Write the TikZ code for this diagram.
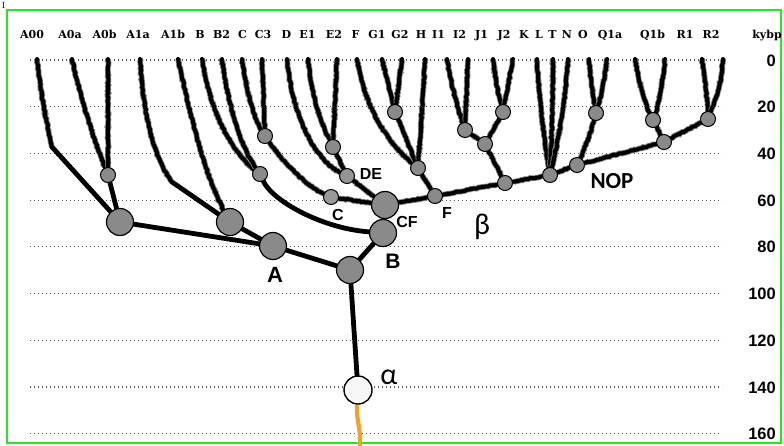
\documentclass[tikz,border=0pt]{standalone}
\usepackage{fontspec}
\newfontfamily\lsans{Liberation Sans}
\newfontfamily\carl{Carlito}
\newfontfamily\dserifb{DejaVu Serif Bold}
\usetikzlibrary{decorations.pathmorphing}
\pgfdeclarelayer{bg}
\pgfdeclarelayer{edges}
\pgfsetlayers{bg,edges,main}
\definecolor{framegreen}{RGB}{40,228,40}
\definecolor{nodegray}{RGB}{138,138,138}
\definecolor{orangeline}{RGB}{242,162,40}
\pgfmathsetseed{7}
\tikzset{
  sn/.style={circle,draw=black,line width=1pt,fill=nodegray,minimum size=15pt,inner sep=0pt},
  bn/.style={circle,draw=black,line width=1.2pt,fill=nodegray,minimum size=27pt,inner sep=0pt},
  rough/.style={draw=black,line width=4pt,line join=round,line cap=round,decorate,
    decoration={random steps,segment length=1.6pt,amplitude=0.55pt},
    preaction={draw=black!50,line width=5.6pt}},
  thickline/.style={draw=black,line width=4.8pt,line cap=round},
  toplab/.style={font=\dserifb\fontsize{11}{12}\selectfont,anchor=base,inner sep=0pt},
  numlab/.style={font=\lsans\fontsize{16.5}{18}\selectfont\bfseries,anchor=base east,inner sep=0pt},
  glab/.style={font=\lsans\fontsize{16}{18}\selectfont\bfseries,inner sep=0pt},
  gridline/.style={black!65,line width=1.2pt,dash pattern=on 1.2pt off 2.8pt},
}
\begin{document}
\begin{tikzpicture}[x=1pt,y=-1pt]
\useasboundingbox (0,0) rectangle (784,445);
\begin{pgfonlayer}{bg}
  \fill[white] (0,0) rectangle (784,445);
  \draw[framegreen,line width=2.6pt] (7,10) rectangle (781,443);
  \foreach \k in {0,...,8} \draw[gridline] (30,{60+46.72*\k}) -- (722,{60+46.72*\k});
\end{pgfonlayer}
% stray mark
\node[font=\fontsize{9}{10}\selectfont,inner sep=0pt,anchor=base] (stray) at (3.5,8) {I};
% top labels
\foreach \n/\x in {A00/32,A0a/70,A0b/104.5,A1a/138,A1b/173,B/200,B2/221.5,C/242.5,C3/263,D/286.5,E1/307.5,E2/334,F/355.5,G1/377,G2/400,H/421,I1/438.5,I2/459.5,J1/481.5,J2/504,K/524,L/539,T/552.5,N/567,O/583,Q1a/610,Q1b/652.5,R1/685,R2/711,kybp/767}
  \node[toplab] (lab\n) at (\x,38.3) {\n};
% right numbers
\foreach \k/\v in {0/0,1/20,2/40,3/60,4/80,5/100,6/120,7/140,8/160}
  \node[numlab] (num\k) at (776,{66+46.72*\k}) {\v};
% tips
\foreach \n/\x in {A00/37,A0a/72,A0b/108,A1a/140,A1b/178,B/202,B2/222,C/242,C3/262,D/287,E1/308,E2/337,F/357,G1/382,G2/402,H/425,I1/447,I2/468,J1/493,J2/513,K/537,L/553,T/568,N/589,O/607,Q1a/635,Q1b/665,R1/702,R2/723}
  \coordinate (t\n) at (\x,59);
\coordinate (kA00) at (52,147);
\coordinate (kA1a) at (172,182);
\coordinate (oEnd) at (360,446);
% big nodes
\node[bn] (A0) at (120,222) {};
\node[bn] (A1) at (230,222) {};
\node[bn] (A) at (273,246) {};
\node[bn] (Rt) at (350,270) {};
\node[bn] (B) at (383,233) {};
\node[bn] (CF) at (385,205) {};
\node[circle,draw=black,line width=1.4pt,fill=black!3,minimum size=28pt,inner sep=0pt] (alpha) at (358,390) {};
% small nodes
\node[sn] (a0s) at (108,175) {};
\node[sn] (Bs) at (260,174) {};
\node[sn] (C3n) at (265,136) {};
\node[sn,fill=black!40] (Cn) at (331,197) {};
\node[sn] (En) at (333,147) {};
\node[sn,fill=black!42] (DEn) at (347,176) {};
\node[sn] (Gn) at (395,112) {};
\node[sn] (Hn) at (418,168) {};
\node[sn] (Fn) at (435,196) {};
\node[sn] (In) at (465,130) {};
\node[sn] (Jn) at (503,112) {};
\node[sn] (IJn) at (485,144) {};
\node[sn] (Mn) at (505,183) {};
\node[sn] (KLTn) at (550,175) {};
\node[sn] (NOn) at (596,113) {};
\node[sn] (NOPn) at (577,165) {};
\node[sn] (Qn) at (653,120) {};
\node[sn] (QRn) at (664,142) {};
\node[sn] (Rn) at (708,119) {};
% labels
\node[font=\lsans\fontsize{22}{24}\selectfont\bfseries,inner sep=0pt] (labnA) at (275,275) {A};
\node[font=\lsans\fontsize{21}{24}\selectfont\bfseries,inner sep=0pt] (labnB) at (393,261) {B};
\node[glab] (labnC) at (338,215) {C};
\node[glab] (labnDE) at (371,174) {DE};
\node[glab] (labnCF) at (407,222) {CF};
\node[glab] (labnF) at (447,213) {F};
\node[font=\carl\fontsize{23}{26}\selectfont\bfseries,inner sep=0pt] (labnNOP) at (612,181) {NOP};
\node[font=\carl\fontsize{30}{32}\selectfont,inner sep=0pt] (labbeta) at (482,227) {β};
\node[font=\carl\fontsize{30}{32}\selectfont,inner sep=0pt] (labalpha) at (389,377) {α};
% edges
\begin{pgfonlayer}{edges}
  % smooth thick
  \draw[thickline] (kA00) -- (A0);
  \draw[thickline] (a0s) -- (A0);
  \draw[thickline] (kA1a) -- (A1);
  \draw[thickline] (A0) -- (A);
  \draw[thickline] (A1) -- (A);
  \draw[thickline] (A) -- (Rt);
  \draw[thickline] (B) -- (Rt);
  \draw[thickline] (Rt) -- (alpha);
  \draw[thickline] (Bs) .. controls (272,200) and (320,228) .. (B);
  \draw[thickline] (CF) -- (B);
  \draw[orangeline,line width=4.2pt] (alpha) .. controls (356,420) and (361,428) .. (oEnd);
  % rough lineages
  \draw[rough] (tA00) .. controls (40,90) and (47,125) .. (kA00);
  \draw[rough] (tA0a) .. controls (82,105) and (96,145) .. (a0s);
  \draw[rough] (tA0b) -- (a0s);
  \draw[rough] (tA1a) .. controls (143,110) and (152,155) .. (kA1a);
  \draw[rough] (tA1b) .. controls (190,115) and (205,175) .. (A1);
  \draw[rough] (tB) .. controls (210,110) and (230,150) .. (Bs);
  \draw[rough] (tB2) .. controls (228,105) and (240,145) .. (Bs);
  \draw[rough] (tC) .. controls (247,95) and (255,120) .. (C3n);
  \draw[rough] (tC3) -- (C3n);
  \draw[rough] (C3n) .. controls (285,165) and (310,188) .. (Cn);
  \draw[rough] (tD) .. controls (292,115) and (315,160) .. (DEn);
  \draw[rough] (tE1) .. controls (312,100) and (322,125) .. (En);
  \draw[rough] (tE2) -- (En);
  \draw[rough] (En) -- (DEn);
  \draw[rough] (Cn) -- (CF);
  \draw[rough] (DEn) -- (CF);
  \draw[rough] (tF) .. controls (365,110) and (390,145) .. (Hn);
  \draw[rough] (tG1) -- (Gn);
  \draw[rough] (tG2) -- (Gn);
  \draw[rough] (Gn) -- (Hn);
  \draw[rough] (tH) .. controls (423,100) and (420,140) .. (Hn);
  \draw[rough] (Hn) -- (Fn);
  \draw[rough] (Fn) -- (CF);
  \draw[rough] (tI1) .. controls (452,90) and (460,115) .. (In);
  \draw[rough] (tI2) -- (In);
  \draw[rough] (tJ1) .. controls (496,85) and (500,100) .. (Jn);
  \draw[rough] (tJ2) -- (Jn);
  \draw[rough] (In) -- (IJn);
  \draw[rough] (Jn) -- (IJn);
  \draw[rough] (IJn) -- (Mn);
  \draw[rough] (Fn) -- (Mn);
  \draw[rough] (Mn) -- (KLTn);
  \draw[rough] (KLTn) -- (NOPn);
  \draw[rough] (NOPn) -- (QRn);
  \draw[rough] (QRn) -- (Rn);
  \draw[rough] (tK) .. controls (540,110) and (546,150) .. (KLTn);
  \draw[rough] (tL) .. controls (553,110) and (551,150) .. (KLTn);
  \draw[rough] (tT) .. controls (565,110) and (556,150) .. (KLTn);
  \draw[rough] (tN) .. controls (591,85) and (594,100) .. (NOn);
  \draw[rough] (tO) .. controls (604,85) and (600,100) .. (NOn);
  \draw[rough] (NOn) .. controls (590,135) and (582,155) .. (NOPn);
  \draw[rough] (tQ1a) .. controls (640,90) and (648,110) .. (Qn);
  \draw[rough] (tQ1b) .. controls (662,90) and (657,110) .. (Qn);
  \draw[rough] (Qn) -- (QRn);
  \draw[rough] (tR1) .. controls (706,90) and (708,105) .. (Rn);
  \draw[rough] (tR2) .. controls (721,90) and (713,105) .. (Rn);
\end{pgfonlayer}
\end{tikzpicture}
\end{document}
